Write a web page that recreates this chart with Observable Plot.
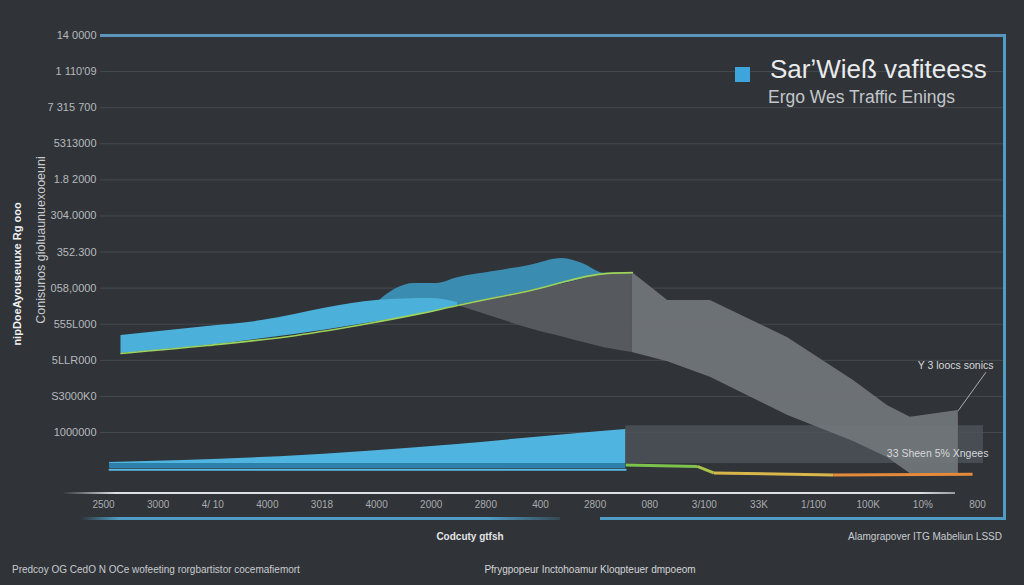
<!DOCTYPE html>
<html><head><meta charset="utf-8">
<script src="https://cdn.jsdelivr.net/npm/d3@7"></script>
<script src="https://cdn.jsdelivr.net/npm/@observablehq/plot@0.6"></script>
<style>
html,body{margin:0;padding:0;background:#303337;}
#wrap{position:relative;width:1024px;height:585px;overflow:hidden;font-family:"Liberation Sans",Arial,sans-serif;background:#303337;}
#chart{position:absolute;left:0;top:0;}
.t{position:absolute;white-space:nowrap;line-height:1;}
.d{position:absolute;}
</style></head><body>
<div id="wrap">
<div id="chart"></div>
<div class="d" style="left:62px;top:492px;width:893px;height:2px;background:linear-gradient(to right,rgba(220,224,228,0),#dde1e5 6%,#dde1e5 96%,rgba(220,224,228,0.6));"></div>
<div class="d" style="left:1003px;top:34px;width:3px;height:486px;background:#4f9cc6;"></div>
<div class="d" style="left:80px;top:517px;width:480px;height:3px;background:linear-gradient(to right,rgba(79,156,198,0),#4f9cc6 8%,#4f9cc6 85%,rgba(79,156,198,0.2));"></div>
<div class="d" style="left:600px;top:517px;width:406px;height:3px;background:#4f9cc6;"></div>
<div class="d" style="left:735px;top:67px;width:15px;height:15px;background:#3da5db;"></div>
<div class="t" id="title" style="left:770px;top:56px;font-size:26px;color:#e9ebed;"></div>
<div class="t" id="subtitle" style="left:768px;top:89px;font-size:17.5px;color:#c3c7cb;"></div>
<div class="t" id="ylab1" style="left:17px;top:274px;font-size:11px;font-weight:bold;color:#eef0f2;transform:translate(-50%,-50%) rotate(-90deg);"></div>
<div class="t" id="ylab2" style="left:41px;top:240px;font-size:12.5px;color:#c6cacd;transform:translate(-50%,-50%) rotate(-90deg);"></div>
<div class="t" id="xlab" style="left:470px;top:532px;font-size:10px;font-weight:bold;color:#e2e4e6;transform:translateX(-50%);"></div>
<div class="t" id="src" style="right:22px;top:532px;font-size:10px;color:#c8ccd0;"></div>
<div class="t" id="foot1" style="left:12px;top:565px;font-size:10px;color:#c8ccd0;"></div>
<div class="t" id="foot2" style="left:590px;top:565px;font-size:10px;color:#d4d6d8;transform:translateX(-50%);"></div>
</div>
<script>
// ---- text ----
const titleText = "SarʼWieß vafiteess";
const subtitleText = "Ergo Wes Traffic Enings";
const yTitle1 = "nipDoeAyouseuuxe Rg ooo";
const yTitle2 = "Conisunos gioluaunuexooeuni";
const xTitle = "Codcuty gtfsh";
const sourceText = "Alamgrapover ITG Mabeliun LSSD";
const footLeft = "Predcoy OG CedO N OCe wofeeting rorgbartistor cocemafiemort";
const footMid = "Pfrygpopeur Inctohoamur Kloqpteuer dmpoeom";

// ---- tick labels ----
const yTickLabels = ["1000000","S3000K0","5LLR000","555L000","058,0000","352.300","304.0000","1.8 2000","5313000","7 315 700","1 110'09","14 0000"];
const xTickLabels = ["2500","3000","4/ 10","4000","3018","4000","2000","2800","400","2800","080","3/100","33K","1/100","100K","10%","800"];

// ---- upper light-blue band ----
const upperBlueX = [0.32,1.9,2.9,4.1,5.0,6.0,6.48];
const upperBlueTop = [2.69,2.94,3.10,3.46,3.66,3.71,3.60];
const upperBlueBottom = [2.19,2.41,2.60,2.85,3.07,3.33,3.52];

// ---- upper teal band ----
const tealX = [5.05,5.36,5.69,6.10,6.48,7.14,7.80,8.40,8.77,9.17,9.68];
const tealTop = [3.66,3.99,4.13,4.13,4.29,4.46,4.63,4.82,4.68,4.41,4.43];
const tealBottom = [3.07,3.17,3.26,3.38,3.52,3.72,3.93,4.12,4.25,4.40,4.43];

// ---- green trend line ----
const greenX = [0.32,1.9,3.53,4.85,5.82,6.48,7.80,9.23,9.68];
const greenY = [2.19,2.41,2.69,3.02,3.30,3.52,3.93,4.41,4.43];

// ---- grey face (shadow) ----
const faceX = [6.48,7.14,7.80,8.44,9.17,9.68];
const faceTop = [3.52,3.72,3.93,4.12,4.40,4.43];
const faceBottom = [3.52,3.20,2.88,2.63,2.35,2.22];

// ---- grey ribbon ----
const ribbonX = [9.68,10.33,11.11,12.52,13.73,14.35,14.77,15.65];
const ribbonTop = [4.43,3.66,3.66,2.63,1.44,0.75,0.42,0.61];
const ribbonBottom = [2.22,1.96,1.53,0.48,-0.25,-0.69,-1.14,-1.14];

// ---- lower blue wedge ----
const lowBlueX = [0.11,3.22,6.48,8.44,9.56];
const lowBlueTop = [-0.83,-0.67,-0.33,-0.06,0.08];
const lowBlueBase = [-0.86,-0.86,-0.86,-0.86,-0.86];
const lowStripeX = [0.11,9.56];
const lowStripeTop = [-0.86,-0.86];
const lowStripeBottom = [-1.0,-1.0];
const lowLineY = [-1.03,-1.03];

// ---- dark box on the right ----
const boxX = [9.56,16.11];
const boxTop = [0.19,0.19];
const boxBottom = [-0.86,-0.86];

// ---- green / yellow / orange trail ----
const trailX = [9.56,10.87,11.17,13.36,15.91];
const trailY = [-0.90,-0.94,-1.12,-1.18,-1.16];
const trailColors = ["#7cc24c","#a9c24a","#d9b64a","#e58a3c"];

// ---- annotations ----
const noteLineX = [15.65,16.15];
const noteLineY = [0.61,1.66];
const noteX = [15.6,15.27];
const noteY = [1.86,-0.58];
const noteText = ["Y 3 loocs sonics","33 Sheen 5% Xngees"];

const band = (xs, lo, hi) => xs.map((x,i)=>({x, y1: lo[i], y2: hi[i]}));
const pts = (xs, ys) => xs.map((x,i)=>({x, y: ys[i]}));

document.getElementById("title").textContent = titleText;
document.getElementById("subtitle").textContent = subtitleText;
document.getElementById("ylab1").textContent = yTitle1;
document.getElementById("ylab2").textContent = yTitle2;
document.getElementById("xlab").textContent = xTitle;
document.getElementById("src").textContent = sourceText;
document.getElementById("foot1").textContent = footLeft;
document.getElementById("foot2").textContent = footMid;

const trailSegs = trailColors.map((c,i)=>({x1: trailX[i], y1: trailY[i], x2: trailX[i+1], y2: trailY[i+1], c}));

const chart = Plot.plot({
  width: 1024, height: 585,
  marginTop: 35, marginBottom: 92, marginLeft: 100, marginRight: 19,
  x: {domain: [-0.055, 16.513], axis: null},
  y: {domain: [-1.69, 11], axis: null},
  style: {background: "transparent", color: "#b4b8bc", fontFamily: "Liberation Sans, Arial, sans-serif"},
  marks: [
    Plot.ruleY(d3.range(11), {stroke: "#464a4f", strokeWidth: 1}),
    Plot.ruleY([11], {stroke: "#5b95bb", strokeWidth: 3}),
    Plot.areaY(band(boxX, boxBottom, boxTop), {x: "x", y1: "y1", y2: "y2", fill: "#4b5258", fillOpacity: 0.85}),
    Plot.areaY(band(tealX, tealBottom, tealTop), {x: "x", y1: "y1", y2: "y2", fill: "#3a8db0", curve: "monotone-x"}),
    Plot.areaY(band(faceX, faceBottom, faceTop), {x: "x", y1: "y1", y2: "y2", fill: "#56595e", curve: "monotone-x"}),
    Plot.areaY(band(ribbonX, ribbonBottom, ribbonTop), {x: "x", y1: "y1", y2: "y2", fill: "#72767b", fillOpacity: 0.92}),
    Plot.areaY(band(upperBlueX, upperBlueBottom, upperBlueTop), {x: "x", y1: "y1", y2: "y2", fill: "#4bb0da", curve: "monotone-x"}),
    Plot.line(pts(greenX, greenY), {x: "x", y: "y", stroke: "#9fd45a", strokeWidth: 1.6, curve: "monotone-x"}),
    Plot.areaY(band(lowStripeX, lowStripeBottom, lowStripeTop), {x: "x", y1: "y1", y2: "y2", fill: "#2d80aa"}),
    Plot.line(pts(lowStripeX, lowLineY), {x: "x", y: "y", stroke: "#58bde6", strokeWidth: 2}),
    Plot.areaY(band(lowBlueX, lowBlueBase, lowBlueTop), {x: "x", y1: "y1", y2: "y2", fill: "#4fb4e0", curve: "monotone-x"}),
    Plot.link(trailSegs, {x1: "x1", y1: "y1", x2: "x2", y2: "y2", stroke: "c", strokeWidth: 3}),
    Plot.line(pts(noteLineX, noteLineY), {x: "x", y: "y", stroke: "#c8ccd0", strokeWidth: 0.8}),
    Plot.text(noteText.map((t,i)=>({x: noteX[i], y: noteY[i], t})), {x: "x", y: "y", text: "t", fill: "#d6d8da", fontSize: 10.5}),
    Plot.axisY({ticks: d3.range(12), tickFormat: i => yTickLabels[i], tickSize: 0, tickPadding: 4, fontSize: 11, fill: "#b6babe"}),
    Plot.axisX({ticks: d3.range(17), tickFormat: i => xTickLabels[i], tickSize: 0, tickPadding: 7, fontSize: 10, fill: "#a8acb0"})
  ]
});
document.getElementById("chart").appendChild(chart);
</script>
</body></html>
